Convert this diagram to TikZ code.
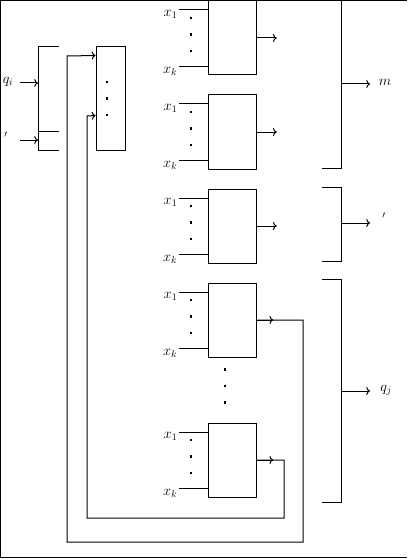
\documentclass[tikz,border=0pt]{standalone}
\usepackage{amsmath}
\usetikzlibrary{arrows.meta,positioning}

\begin{document}
\begin{tikzpicture}[x=1pt, y=-1pt, node distance=19pt and 0.8cm, line width=1pt,
    unit/.style={rectangle, draw=black, minimum width=48.5pt, minimum height=74pt, inner sep=0pt},
    mux/.style={rectangle, draw=black, minimum width=29pt, minimum height=103pt, inner sep=0pt},
    dotmark/.style={rectangle, fill=black, minimum size=2.2pt, inner sep=0pt},
    lbl/.style={inner sep=1pt, font=\Large},
    line/.style={draw=black, -{To}}]

    \useasboundingbox (0,0) rectangle (407,559);
    \draw (407,0.5) -- (0.8,0.5) -- (0.8,557) -- (407,557);

    % logic units
    \node [unit] (u1) at (232.5,38) {};
    \node [unit, below=of u1] (u2) {};
    \node [unit, below=of u2] (u3) {};
    \node [unit, below=of u3] (u4) {};
    \node [unit, below=65pt of u4] (u5) {};
    \node [dotmark] (vd1) at ([xshift=-7.5pt, yshift=-12pt]u4.south) {};
    \node [dotmark] (vd2) at ([xshift=-7.5pt, yshift=-28.5pt]u4.south) {};
    \node [dotmark] (vd3) at ([xshift=-7.5pt, yshift=-45pt]u4.south) {};

    \foreach \u in {u1,u2,u3,u4,u5} {
      \draw ([yshift=-9.5pt]\u.north west) -- ++(-29,0) node [lbl, left, yshift=-4.5pt] (\u-x1) {$x_1$};
      \draw ([yshift=9pt]\u.south west) -- ++(-29,0) node [lbl, left, yshift=-4.5pt] (\u-xk) {$x_k$};
      \node [dotmark] (\u-d1) at ([xshift=-16.5pt, yshift=20pt]\u.west) {};
      \node [dotmark] (\u-d2) at ([xshift=-16.5pt, yshift=3.5pt]\u.west) {};
      \node [dotmark] (\u-d3) at ([xshift=-16.5pt, yshift=-13pt]\u.west) {};
    }

    % multiplexer
    \node [mux] (mx) at (110.5,98.5) {};
    \node [dotmark] (md1) at ([xshift=-3.5pt, yshift=16.5pt]mx.center) {};
    \node [dotmark] (md2) at ([xshift=-3.5pt]mx.center) {};
    \node [dotmark] (md3) at ([xshift=-3.5pt, yshift=-16.5pt]mx.center) {};
    \coordinate (in1) at ([yshift=-9pt]mx.north west);
    \coordinate (in2) at ([yshift=-69pt]mx.north west);

    % input bracket
    \node [lbl] (qi) at (8,82) {$q_i$};
    \node [lbl] (pi) at (6,137) {$'$};
    \coordinate (qs) at (20,83);
    \coordinate (qe) at (38,83);
    \coordinate (ps) at (20,140);
    \coordinate (pe) at (38,140);
    \draw (59,47) -- (38,47) -- (38,150) -- (59,150);
    \draw (38,131) -- (59,131);
    \path [line] (qs) -- (qe);
    \path [line] (ps) -- (pe);

    % outputs
    \path [line] (u1.east) -- ++(19.5,0);
    \path [line] (u2.east) -- ++(19.5,0);
    \path [line] (u3.east) -- ++(19.5,0);
    \path [line] (u4.east) -- ++(16,0);
    \path [line] (u5.east) -- ++(16,0);

    % feedback
    \path [line] (u4.east) -| (303,542) -| (67,56) -- (in1);
    \path [line] (u5.east) -| (284,518) -| (87,116) -- (in2);

    % output brackets
    \draw (322,1) -- (341,1) -- (341,168) -- (322,168);
    \draw (322,187) -- (341,187) -- (341,261) -- (322,261);
    \draw (322,279.5) -- (341,279.5) -- (341,502) -- (322,502);
    \node [lbl] (m) at (385,82) {$m$};
    \node [lbl] (po) at (384,218) {$'$};
    \node [lbl] (qj) at (386,390) {$q_j$};
    \coordinate (ms) at (341,84);
    \coordinate (me) at (370,84);
    \coordinate (ps2) at (341,223);
    \coordinate (pe2) at (370,223);
    \coordinate (qs2) at (341,391);
    \coordinate (qe2) at (370,391);
    \path [line] (ms) -- (me);
    \path [line] (ps2) -- (pe2);
    \path [line] (qs2) -- (qe2);
\end{tikzpicture}
\end{document}
